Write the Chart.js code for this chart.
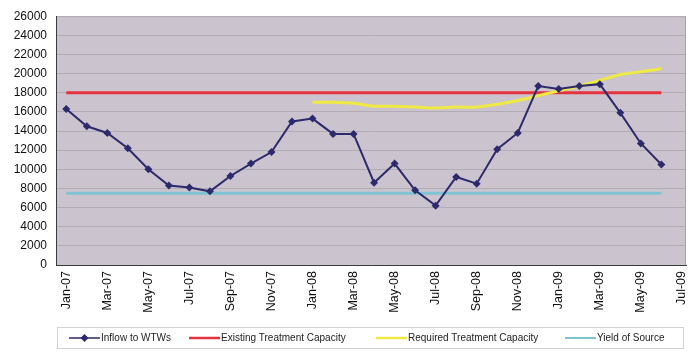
<!DOCTYPE html>
<html>
<head>
<meta charset="utf-8">
<script src="https://cdn.jsdelivr.net/npm/chart.js@4/dist/chart.umd.min.js"></script>
<style>
  html, body { margin: 0; padding: 0; background: #fff; }
  #wrap { width: 690px; height: 353px; position: relative; }
</style>
</head>
<body>
<div id="wrap"><canvas id="chart"></canvas></div>
<script>
// months on the category axis (labels shown every other month)
const months = ['Jan-07','Feb-07','Mar-07','Apr-07','May-07','Jun-07','Jul-07','Aug-07','Sep-07','Oct-07','Nov-07','Dec-07',
  'Jan-08','Feb-08','Mar-08','Apr-08','May-08','Jun-08','Jul-08','Aug-08','Sep-08','Oct-08','Nov-08','Dec-08',
  'Jan-09','Feb-09','Mar-09','Apr-09','May-09','Jun-09','Jul-09'];

// Jan-07 .. Jun-09
const inflow = [16300, 14500, 13800, 12200, 10000, 8300, 8100, 7700, 9300, 10600, 11800, 15000,
  15300, 13700, 13700, 8600, 10600, 7800, 6200, 9200, 8500, 12100, 13800, 18700,
  18400, 18700, 18900, 15900, 12700, 10500];
const existingCapacity = [18000, 18000, 18000, 18000, 18000, 18000, 18000, 18000, 18000, 18000, 18000, 18000,
  18000, 18000, 18000, 18000, 18000, 18000, 18000, 18000, 18000, 18000, 18000, 18000,
  18000, 18000, 18000, 18000, 18000, 18000];
const yieldOfSource = [7500, 7500, 7500, 7500, 7500, 7500, 7500, 7500, 7500, 7500, 7500, 7500,
  7500, 7500, 7500, 7500, 7500, 7500, 7500, 7500, 7500, 7500, 7500, 7500,
  7500, 7500, 7500, 7500, 7500, 7500];
// Jan-08 .. Jun-09
const requiredStart = 12;
const requiredCapacity = [17000, 17000, 16900, 16600, 16600, 16500, 16400, 16500, 16500, 16800, 17200, 17700,
  18200, 18700, 19300, 19900, 20200, 20500];

const yTicks = [0, 2000, 4000, 6000, 8000, 10000, 12000, 14000, 16000, 18000, 20000, 22000, 24000, 26000];

const toPoints = (vals, start) => vals.map((v, i) => ({ x: i + start, y: v }));

const FONT = "'Liberation Sans', Arial, sans-serif";

const plotBackground = {
  id: 'plotBackground',
  beforeDraw(chart) {
    const { ctx, chartArea: a } = chart;
    ctx.save();
    ctx.fillStyle = '#cbc4ce';
    ctx.fillRect(a.left, a.top, a.right - a.left, a.bottom - a.top);
    ctx.strokeStyle = '#a7a1aa';
    ctx.lineWidth = 1;
    ctx.strokeRect(a.left + 0.5, a.top + 0.5, a.right - a.left - 1, a.bottom - a.top);
    ctx.restore();
  }
};

// Excel style legend in a box under the axis
const boxLegend = {
  id: 'boxLegend',
  afterDraw(chart) {
    const { ctx } = chart;
    const itemX = [69, 189, 376, 565];
    const cy = 338;
    ctx.save();
    ctx.strokeStyle = '#d2d2d2';
    ctx.lineWidth = 1;
    ctx.strokeRect(57.5, 327.5, 626, 21);
    ctx.font = '10px ' + FONT;
    ctx.textBaseline = 'middle';
    ctx.fillStyle = '#222';
    chart.data.datasets.forEach((ds, i) => {
      const x = itemX[i];
      ctx.strokeStyle = ds.borderColor;
      ctx.lineWidth = ds.legendLine;
      ctx.beginPath();
      ctx.moveTo(x, cy);
      ctx.lineTo(x + 31, cy);
      ctx.stroke();
      if (ds.pointRadius > 0) {
        ctx.fillStyle = ds.borderColor;
        ctx.beginPath();
        ctx.moveTo(x + 15.5, cy - 4);
        ctx.lineTo(x + 19.5, cy);
        ctx.lineTo(x + 15.5, cy + 4);
        ctx.lineTo(x + 11.5, cy);
        ctx.closePath();
        ctx.fill();
      }
      ctx.fillStyle = '#222';
      ctx.fillText(ds.label, x + 32, cy);
    });
    ctx.restore();
  }
};

new Chart(document.getElementById('chart'), {
  type: 'line',
  data: {
    datasets: [
      {
        label: 'Inflow to WTWs',
        data: toPoints(inflow, 0),
        borderColor: '#2c2a6c',
        backgroundColor: '#2c2a6c',
        borderWidth: 2,
        legendLine: 1.5,
        pointStyle: 'rectRot',
        pointRadius: 4,
        pointBorderWidth: 0,
        order: 0
      },
      {
        label: 'Existing Treatment Capacity',
        data: toPoints(existingCapacity, 0),
        borderColor: '#e4333c',
        borderWidth: 3,
        legendLine: 2.5,
        pointRadius: 0,
        order: 3
      },
      {
        label: 'Required Treatment Capacity',
        data: toPoints(requiredCapacity, requiredStart),
        borderColor: '#efe944',
        borderWidth: 3,
        legendLine: 2.5,
        pointRadius: 0,
        tension: 0.4,
        order: 2
      },
      {
        label: 'Yield of Source',
        data: toPoints(yieldOfSource, 0),
        borderColor: '#80c3d2',
        borderWidth: 3,
        legendLine: 2,
        pointRadius: 0,
        order: 4
      }
    ]
  },
  options: {
    responsive: true,
    maintainAspectRatio: false,
    animation: false,
    layout: { padding: { left: 0, right: 2, top: 14, bottom: 33 } },
    plugins: {
      legend: { display: false },
      tooltip: { enabled: false }
    },
    scales: {
      x: {
        type: 'linear',
        min: -0.5,
        max: 30.2,
        afterBuildTicks: (scale) => {
          scale.ticks = months.map((m, i) => ({ value: i })).filter(t => t.value % 2 === 0);
        },
        afterFit: (scale) => {
          scale.height = 55;
          scale.paddingLeft = 0;
          scale.paddingRight = 0;
        },
        grid: { display: false, drawTicks: false },
        border: { display: true, color: '#3a3a3a', width: 1 },
        ticks: {
          autoSkip: false,
          minRotation: 90,
          maxRotation: 90,
          padding: 6,
          color: '#111',
          font: { family: FONT, size: 12.5 },
          callback: (v) => months[v]
        }
      },
      y: {
        min: 0,
        max: 26000,
        afterBuildTicks: (scale) => {
          scale.ticks = yTicks.map(v => ({ value: v }));
        },
        afterFit: (scale) => { scale.width = 56; },
        grid: { color: '#b2acb5', drawTicks: false, lineWidth: 1 },
        border: { display: true, color: '#3a3a3a', width: 1 },
        ticks: {
          padding: 9,
          color: '#111',
          font: { family: FONT, size: 12 },
          callback: (v) => String(v)
        }
      }
    }
  },
  plugins: [plotBackground, boxLegend]
});
</script>
</body>
</html>
